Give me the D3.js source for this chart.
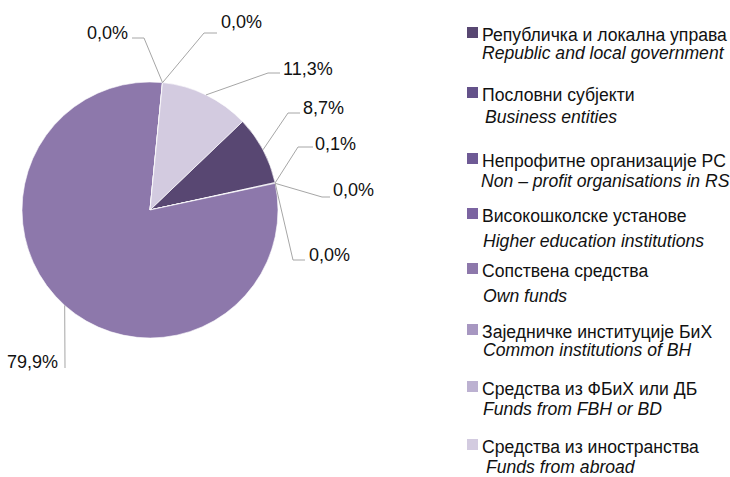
<!DOCTYPE html>
<html>
<head>
<meta charset="utf-8">
<script src="https://cdn.jsdelivr.net/npm/d3@7/dist/d3.min.js"></script>
<style>
  html, body { margin: 0; padding: 0; background: #fff; }
  svg text { font-family: "Liberation Sans", Arial, sans-serif; fill: #111; }
</style>
</head>
<body>
<div id="chart"></div>
<script>
// categories (serbian / english) and shares in percent
var categoriesSr = ['Републичка и локална управа', 'Пословни субјекти', 'Непрофитне организације РС',
  'Високошколске установе', 'Сопствена средства', 'Заједничке институције БиХ',
  'Средства из ФБиХ или ДБ', 'Средства из иностранства'];
var categoriesEn = ['Republic and local government', 'Business entities', 'Non – profit organisations in RS',
  'Higher education institutions', 'Own funds', 'Common institutions of BH',
  'Funds from FBH or BD', 'Funds from abroad'];
var shares = [8.7, 0.1, 0.0, 0.0, 79.9, 0.0, 0.0, 11.3];
var sliceColors = ['#584772', '#64528a', '#6e5a95', '#7b64a1', '#8d78ab', '#a797c1', '#bcb1d1', '#d3cbe0'];

// label layout: elbow and end of the leader line, text anchor point
var labelLayout = [
  {elbow: [288, 113], end: [300, 113], text: [303, 114], anchor: 'start'},
  {elbow: [298, 147], end: [313, 147], text: [315, 150], anchor: 'start'},
  {elbow: [322, 197], end: [330, 197], text: [333, 196], anchor: 'start'},
  {elbow: [293, 260], end: [305, 260], text: [309, 261], anchor: 'start'},
  {elbow: [65, 368], end: [65, 368], text: [58, 368], anchor: 'end'},
  {elbow: [144, 38], end: [132, 38], text: [128, 39], anchor: 'end'},
  {elbow: [204, 33], end: [217, 33], text: [221, 28], anchor: 'start'},
  {elbow: [268, 73], end: [280, 73], text: [283, 75], anchor: 'start'}
];

// legend rows: baseline of the two lines and indent of the second line
var legendY1 = [41, 101, 167, 222, 277, 338, 395, 453];
var legendY2 = [59, 123, 187, 247, 302, 356, 415, 473];
var legendX2 = [482, 485, 481, 483, 483, 483, 483, 486];

var width = 730, height = 477,
  cx = 150, cy = 210, radius = 128;

var svg = d3.select('#chart').append('svg')
  .attr('width', width)
  .attr('height', height);

var pie = d3.pie()
  .sort(null)
  .value(function (d) { return d; })
  .startAngle(46.3 * Math.PI / 180)
  .endAngle(46.3 * Math.PI / 180 + 2 * Math.PI);

var arcs = pie(shares);

var arc = d3.arc().innerRadius(0).outerRadius(radius);
var edgeArc = d3.arc().innerRadius(radius).outerRadius(radius);

var g = svg.append('g').attr('transform', 'translate(' + cx + ',' + cy + ')');

g.selectAll('path.slice')
  .data(arcs)
  .enter().append('path')
  .attr('class', 'slice')
  .attr('d', arc)
  .attr('fill', function (d, i) { return sliceColors[i]; })
  .attr('stroke', '#fff')
  .attr('stroke-width', 0.6);

// leader lines
var fmt = function (v) { return v.toFixed(1).replace('.', ',') + '%'; };

svg.selectAll('polyline.leader')
  .data(arcs)
  .enter().append('polyline')
  .attr('class', 'leader')
  .attr('fill', 'none')
  .attr('stroke', '#a6a6a6')
  .attr('stroke-width', 1)
  .attr('points', function (d, i) {
    var c = edgeArc.centroid(d),
      l = labelLayout[i];
    return [[cx + c[0], cy + c[1]], l.elbow, l.end].map(function (p) { return p.join(','); }).join(' ');
  });

svg.selectAll('text.lbl')
  .data(arcs)
  .enter().append('text')
  .attr('class', 'lbl')
  .attr('x', function (d, i) { return labelLayout[i].text[0]; })
  .attr('y', function (d, i) { return labelLayout[i].text[1]; })
  .attr('text-anchor', function (d, i) { return labelLayout[i].anchor; })
  .style('font-size', '18px')
  .text(function (d) { return fmt(d.data); });

// legend
var legend = svg.selectAll('g.leg')
  .data(categoriesSr)
  .enter().append('g')
  .attr('class', 'leg');

legend.append('rect')
  .attr('x', 467)
  .attr('y', function (d, i) { return legendY1[i] - 14; })
  .attr('width', 11)
  .attr('height', 11)
  .attr('fill', function (d, i) { return sliceColors[i]; });

legend.append('text')
  .attr('x', 482)
  .attr('y', function (d, i) { return legendY1[i]; })
  .style('font-size', '17.6px')
  .text(function (d) { return d; });

legend.append('text')
  .attr('x', function (d, i) { return legendX2[i]; })
  .attr('y', function (d, i) { return legendY2[i]; })
  .style('font-size', '17.6px')
  .style('font-style', 'italic')
  .text(function (d, i) { return categoriesEn[i]; });
</script>
</body>
</html>
